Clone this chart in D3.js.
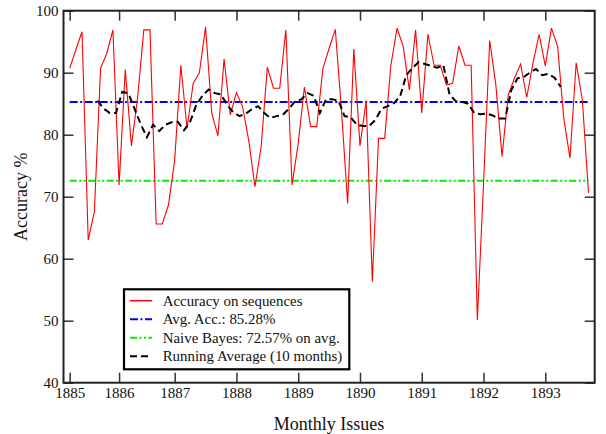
<!DOCTYPE html>
<html>
<head>
<meta charset="utf-8">
<script src="https://cdn.jsdelivr.net/npm/d3@7"></script>
<style>
  body { margin: 0; background: #fff; }
  text { font-family: "Liberation Serif", "Times New Roman", serif; fill: #111; }
</style>
</head>
<body>
<div id="chart"></div>
<script>
// monthly accuracy, one value per issue
const accuracy = [
  90.7, 93.7, 96.6, 63.0, 67.6, 90.7, 93.1, 96.9, 71.9, 90.5,
  78.2, 86.0, 96.9, 96.9, 65.6, 65.6, 68.7, 75.9, 91.2, 81.0,
  88.3, 90.0, 97.4, 83.5, 79.8, 92.2, 83.2, 86.8, 84.5, 79.0,
  71.6, 78.1, 90.9, 87.5, 87.5, 96.9, 71.9, 78.6, 87.7, 81.3,
  81.3, 90.7, 93.9, 97.0, 84.0, 68.9, 93.8, 78.2, 85.5, 56.3,
  79.4, 79.4, 91.2, 97.2, 94.2, 87.2, 96.9, 83.5, 96.2, 91.2,
  91.2, 88.0, 88.3, 94.3, 91.2, 91.2, 50.1, 72.0, 95.2, 88.0,
  76.5, 86.4, 89.1, 91.4, 86.0, 91.5, 96.2, 91.1, 97.2, 94.2,
  82.6, 76.2, 91.6, 85.6, 70.6
]

// 10 month running average, centred on each window
const runningAvg = [
  85.5, 84.2, 83.5, 83.5, 86.9, 86.7, 84.2, 81.7, 79.6, 81.6,
  80.6, 81.6, 82.0, 82.1, 80.7, 82.1, 84.8, 86.3, 87.3, 86.7,
  86.5, 84.8, 83.6, 83.0, 83.4, 84.1, 84.6, 83.5, 82.7, 83.0,
  83.2, 84.2, 85.4, 85.7, 86.7, 86.3, 83.5, 85.7, 85.7, 85.5,
  83.0, 82.8, 81.6, 81.4, 81.4, 82.4, 84.2, 84.6, 85.1, 86.2,
  89.6, 90.8, 91.7, 91.4, 91.1, 90.8, 91.2, 86.5, 85.4, 85.3,
  85.0, 83.5, 83.3, 83.4, 83.1, 82.6, 82.6, 87.2, 89.1, 89.3,
  90.0, 90.6, 89.6, 89.8, 89.2, 87.7
]
const windowSize = 10

const avgAcc = 85.28
const naiveBayes = 72.57

// issue index of the first issue in each year
const yearTickIdx = [0, 8, 17, 27, 37, 47, 57, 67, 77]
const yearLabels = ["1885", "1886", "1887", "1888", "1889", "1890", "1891", "1892", "1893"]
const yTicks = [40, 50, 60, 70, 80, 90, 100]

const legendLabels = [
  "Accuracy on sequences",
  "Avg. Acc.: 85.28%",
  "Naive Bayes: 72.57% on avg.",
  "Running Average (10 months)"
]

const W = 606
const H = 434
const margin = { top: 10.7, right: 11.3, bottom: 51.3, left: 63.5 }
const iw = W - margin.left - margin.right
const ih = H - margin.top - margin.bottom

const svg = d3.select("#chart").append("svg")
  .attr("width", W)
  .attr("height", H)

const g = svg.append("g")
  .attr("transform", `translate(${margin.left},${margin.top})`)

const x = d3.scaleLinear().domain([-1, 85]).range([0, iw])
const y = d3.scaleLinear().domain([40, 100]).range([ih, 0])

// line styles
const styles = [
  { color: "#ff0000", width: 1.1, dash: null },
  { color: "#0000ff", width: 2, dash: "8,2.5,2,2.5" },
  { color: "#00ee00", width: 2, dash: "7,2.5,2,2.5,2,2.5" },
  { color: "#000", width: 2, dash: "7,4" }
]

// reference lines
const refLines = [avgAcc, naiveBayes]
refLines.forEach((v, k) => {
  const s = styles[k + 1]
  g.append("line")
    .attr("x1", x(0)).attr("x2", x(accuracy.length - 1))
    .attr("y1", y(v)).attr("y2", y(v))
    .attr("stroke", s.color)
    .attr("stroke-width", s.width)
    .attr("stroke-dasharray", s.dash)
})

// accuracy line
const line = d3.line()
  .x((d, i) => x(i))
  .y(d => y(d))

g.append("path")
  .datum(accuracy)
  .attr("fill", "none")
  .attr("stroke", styles[0].color)
  .attr("stroke-width", styles[0].width)
  .attr("d", line)

// running average line
const half = (windowSize - 1) / 2
g.append("path")
  .datum(runningAvg)
  .attr("fill", "none")
  .attr("stroke", styles[3].color)
  .attr("stroke-width", styles[3].width)
  .attr("stroke-dasharray", styles[3].dash)
  .attr("d", d3.line().x((d, i) => x(i + half)).y(d => y(d)))

// axes, ticks pointing inward
const xAxis = g.append("g")
  .attr("transform", `translate(0,${ih})`)
  .call(d3.axisBottom(x)
    .tickValues(yearTickIdx)
    .tickFormat((d, i) => yearLabels[i])
    .tickSizeInner(-10).tickSizeOuter(0).tickPadding(5))

const yAxis = g.append("g")
  .call(d3.axisLeft(y)
    .tickValues(yTicks)
    .tickSizeInner(-10).tickSizeOuter(0).tickPadding(5))

const topAxis = g.append("g")
  .call(d3.axisTop(x).tickValues(yearTickIdx).tickFormat("")
    .tickSizeInner(-10).tickSizeOuter(0))

const rightAxis = g.append("g")
  .attr("transform", `translate(${iw},0)`)
  .call(d3.axisRight(y).tickValues(yTicks).tickFormat("")
    .tickSizeInner(-10).tickSizeOuter(0))

;[xAxis, yAxis, topAxis, rightAxis].forEach(a => {
  a.select(".domain").remove()
  a.selectAll(".tick line").attr("stroke", "#333").attr("stroke-width", 1.5)
  a.selectAll("text")
    .style("font-family", '"Liberation Serif", serif')
    .style("font-size", "15px")
    .attr("fill", "#111")
})

// frame
g.append("rect")
  .attr("width", iw)
  .attr("height", ih)
  .attr("fill", "none")
  .attr("stroke", "#222")
  .attr("stroke-width", 2)

// axis titles
svg.append("text")
  .attr("x", margin.left + x(42))
  .attr("y", 430)
  .attr("text-anchor", "middle")
  .style("font-size", "18px")
  .text("Monthly Issues")

svg.append("text")
  .attr("transform", `translate(27,${margin.top + y(70)}) rotate(-90)`)
  .attr("text-anchor", "middle")
  .style("font-size", "18px")
  .text("Accuracy %")

// legend
const legend = svg.append("g").attr("transform", "translate(124,289.3)")
legend.append("rect")
  .attr("width", 225.3)
  .attr("height", 80)
  .attr("fill", "#fff")
  .attr("stroke", "#000")
  .attr("stroke-width", 2.2)

const rows = legend.selectAll(".row")
  .data(legendLabels)
  .join("g")
  .attr("class", "row")
  .attr("transform", (d, i) => `translate(0,${11.4 + i * 18.5})`)

rows.append("line")
  .attr("x1", 6).attr("x2", 28)
  .attr("stroke", (d, i) => styles[i].color)
  .attr("stroke-width", (d, i) => Math.max(1.5, styles[i].width))
  .attr("stroke-dasharray", (d, i) => styles[i].dash)

rows.append("text")
  .attr("x", 38.7)
  .attr("y", 4.8)
  .style("font-size", "14.9px")
  .text(d => d)
</script>
</body>
</html>
